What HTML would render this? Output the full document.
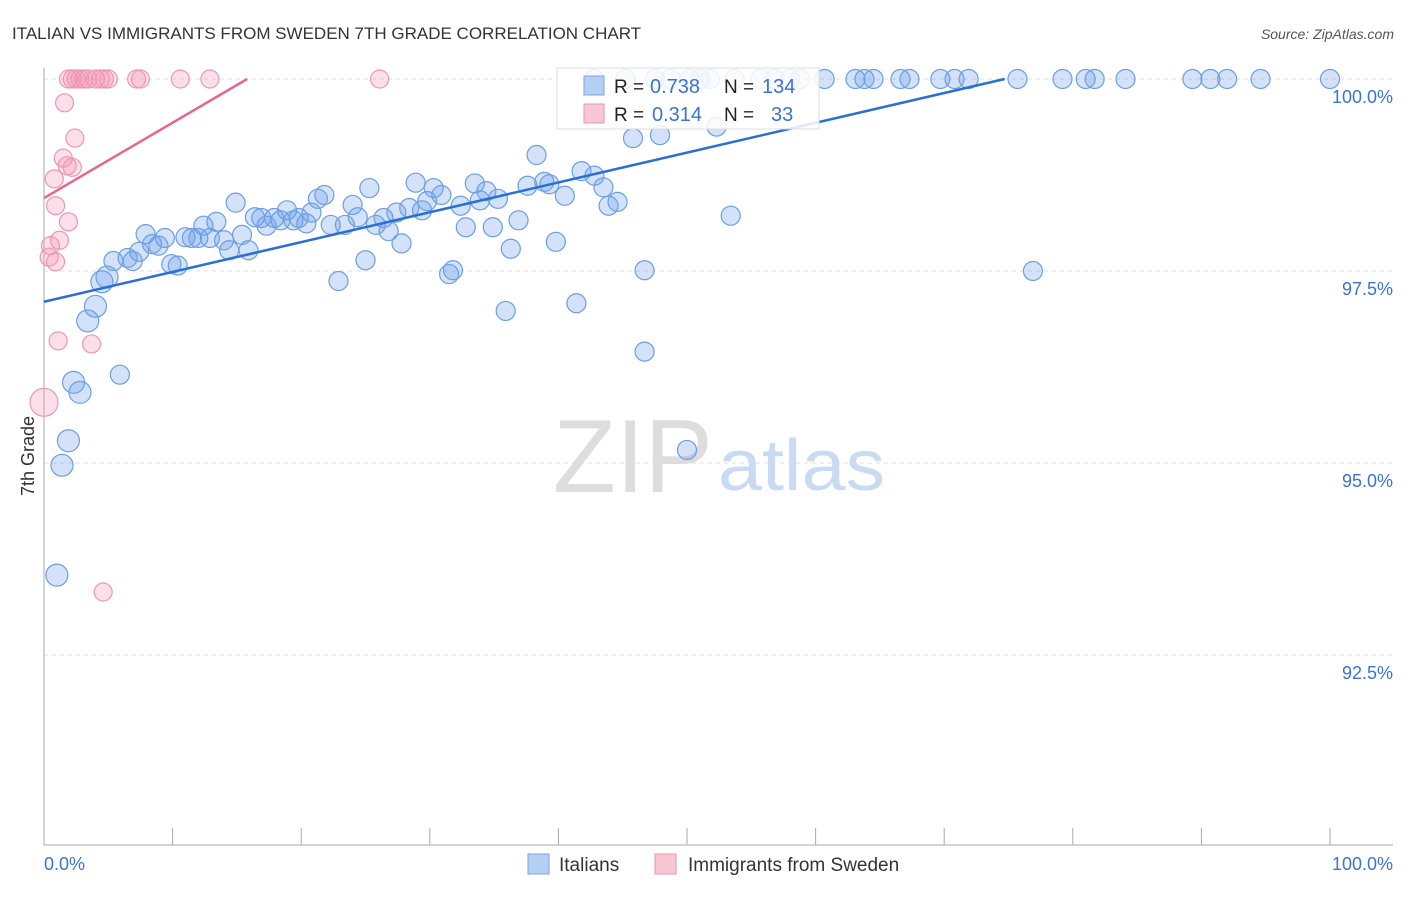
<!DOCTYPE html>
<html><head><meta charset="utf-8"><style>
body{margin:0;background:#fff;font-family:"Liberation Sans",sans-serif}
svg text{font-family:"Liberation Sans",sans-serif}
</style></head><body>
<svg id="c" width="1406" height="892" xmlns="http://www.w3.org/2000/svg">
<text x="12" y="39" font-size="17" fill="#333">ITALIAN VS IMMIGRANTS FROM SWEDEN 7TH GRADE CORRELATION CHART</text>
<text x="1394" y="39" font-size="14" fill="#555" text-anchor="end" font-style="italic">Source: ZipAtlas.com</text>
<g><text x="553" y="492" font-size="104" fill="#ddd" font-family="Liberation Serif,serif" textLength="160" lengthAdjust="spacingAndGlyphs">ZIP</text><text x="718" y="490" font-size="72" fill="#c9dbf3" textLength="167" lengthAdjust="spacingAndGlyphs">atlas</text></g>
<g id="grid"></g>
<line x1="44" y1="68" x2="44" y2="845" stroke="#aaa"/>
<line x1="44" y1="845" x2="1393" y2="845" stroke="#aaa"/>
<text x="34" y="456" font-size="18" fill="#333" transform="rotate(-90 34 456)" text-anchor="middle">7th Grade</text>
<text x="44" y="870" font-size="18" fill="#3b73d1">0.0%</text>
<text x="1393" y="870" font-size="18" fill="#3b73d1" text-anchor="end">100.0%</text>
<g id="pts"></g>
<g id="lines"></g>
<g>
<rect x="557" y="68" width="262" height="61" fill="#fff" fill-opacity="0.85" stroke="#ddd"/>
<rect x="584" y="76" width="20" height="19" fill="#b5cff3" stroke="#7aa6e3"/>
<rect x="584" y="104" width="20" height="19" fill="#f9c6d3" stroke="#eb94ad"/>
<text x="614" y="93" font-size="19" fill="#222">R =</text>
<text x="650" y="93" font-size="20" fill="#3b73d1">0.738</text>
<text x="724" y="93" font-size="19" fill="#222">N =</text>
<text x="762" y="93" font-size="20" fill="#3b73d1">134</text>
<text x="614" y="121" font-size="19" fill="#222">R =</text>
<text x="652" y="121" font-size="20" fill="#3b73d1">0.314</text>
<text x="724" y="121" font-size="19" fill="#222">N =</text>
<text x="771" y="121" font-size="20" fill="#3b73d1">33</text>
</g>
<g>
<rect x="528" y="854" width="21" height="20" fill="#b5cff3" stroke="#7aa6e3"/>
<text x="559" y="871" font-size="19" fill="#333">Italians</text>
<rect x="655" y="854" width="21" height="20" fill="#f9c6d3" stroke="#eb94ad"/>
<text x="688" y="871" font-size="19" fill="#333">Immigrants from Sweden</text>
</g>
</svg>
<script>
const yTicks=[100,97.5,95,92.5];
const xTicks=[10,20,30,40,50,60,70,80,90,100];
const blueX=[1.0,1.4,1.9,2.3,2.8,3.4,4.0,4.5,4.9,5.4,5.9,6.5,6.9,7.4,7.9,8.4,8.9,9.4,9.9,10.4,11.0,11.5,12.0,12.4,12.9,13.4,14.0,14.4,14.9,15.4,15.9,16.4,16.9,17.3,17.9,18.4,18.9,19.4,19.8,20.4,20.8,21.3,21.8,22.3,22.9,23.4,24.0,24.4,25.0,25.3,25.8,26.4,26.8,27.4,27.8,28.4,28.9,29.4,29.8,30.3,30.9,31.5,31.8,32.4,32.8,33.5,33.9,34.4,34.9,35.3,35.9,36.3,36.9,37.6,38.3,38.9,39.3,39.8,40.5,41.4,41.8,42.8,43.5,43.9,44.6,45.8,46.7,46.7,47.9,50.0,52.3,53.4,76.9,
42.8,45.2,47.5,48.7,50.2,51.0,51.8,53.7,55.7,56.8,58.0,58.8,60.7,63.1,63.8,64.5,66.6,67.3,69.7,70.8,71.9,75.7,79.2,81.0,81.7,84.1,89.3,90.7,92.0,94.6,100];
const blueY=[93.54,94.97,95.29,96.05,95.92,96.85,97.04,97.36,97.42,97.63,96.15,97.67,97.63,97.75,97.98,97.85,97.83,97.93,97.59,97.57,97.94,97.93,97.93,98.09,97.93,98.14,97.90,97.77,98.39,97.97,97.77,98.20,98.19,98.09,98.19,98.16,98.29,98.16,98.19,98.12,98.26,98.44,98.49,98.10,97.37,98.10,98.36,98.20,97.64,98.58,98.10,98.19,98.02,98.26,97.86,98.32,98.65,98.29,98.41,98.58,98.49,97.46,97.51,98.35,98.07,98.64,98.42,98.54,98.07,98.44,96.98,97.79,98.16,98.61,99.01,98.66,98.63,97.88,98.48,97.08,98.80,98.74,98.59,98.35,98.40,99.23,97.51,96.45,99.27,95.17,99.38,98.22,97.50,
100,100,100,100,100,100,100,100,100,100,100,100,100,100,100,100,100,100,100,100,100,100,100,100,100,100,100,100,100,100,100];
const pinkX=[1.9,2.2,2.5,2.8,3.1,3.4,4.0,4.4,4.7,5.0,7.2,7.5,10.6,12.9,26.1,1.6,2.4,1.5,1.8,2.2,0.8,0.9,1.9,1.2,0.5,0.4,0.9,1.1,3.7,0,4.6];
const pinkY=[100,100,100,100,100,100,100,100,100,100,100,100,100,100,100,99.69,99.23,98.97,98.87,98.85,98.70,98.35,98.14,97.90,97.83,97.68,97.62,96.59,96.55,95.79,93.32];
const blueFit=[0,97.10,74.7,100];
const pinkFit=[0,98.45,15.8,100];
const NS='http://www.w3.org/2000/svg';
const xs=v=>44+v*12.86, ys=v=>79+(100-v)/2.5*192;
function mk(t,a,p){const e=document.createElementNS(NS,t);for(const k in a)e.setAttribute(k,a[k]);p.appendChild(e);return e;}
const g=document.getElementById('grid');
yTicks.forEach(t=>{
 const l=mk('line',{x1:44,x2:1393,y1:ys(t),y2:ys(t),stroke:'#ddd','stroke-dasharray':'4,4'},g);
 
 
 const tx=mk('text',{x:1393,y:ys(t)+24,'font-size':18,fill:'#3b73d1','text-anchor':'end'},g);
 tx.textContent=t.toFixed(1)+'%';
 
 
});
xTicks.forEach(t=>{
 const l=mk('line',{x1:xs(t),x2:xs(t),y1:828,y2:845,stroke:'#aaa'},g);
 
 
});
const P=document.getElementById('pts');
blueX.forEach((x,i)=>{
 const r=x<5?11:9.5;
 const c=mk('circle',{cx:xs(x),cy:ys(blueY[i]),r:r,fill:'rgba(110,160,235,0.3)',stroke:'#6c9fe2','stroke-width':1.2},P);
 
 
});
pinkX.forEach((x,i)=>{
 const r=x===0?14:9;
 const c=mk('circle',{cx:xs(x),cy:ys(pinkY[i]),r:r,fill:'rgba(245,150,180,0.3)',stroke:'#ec98b0','stroke-width':1.2},P);
 
 
});
const L=document.getElementById('lines');
const bl=mk('line',{x1:xs(blueFit[0]),y1:ys(blueFit[1]),x2:xs(blueFit[2]),y2:ys(blueFit[3]),stroke:'#2a6fd6','stroke-width':2.5},L);


const pl=mk('line',{x1:xs(pinkFit[0]),y1:ys(pinkFit[1]),x2:xs(pinkFit[2]),y2:ys(pinkFit[3]),stroke:'#e8668e','stroke-width':2.5},L);


</script>
</body></html>
